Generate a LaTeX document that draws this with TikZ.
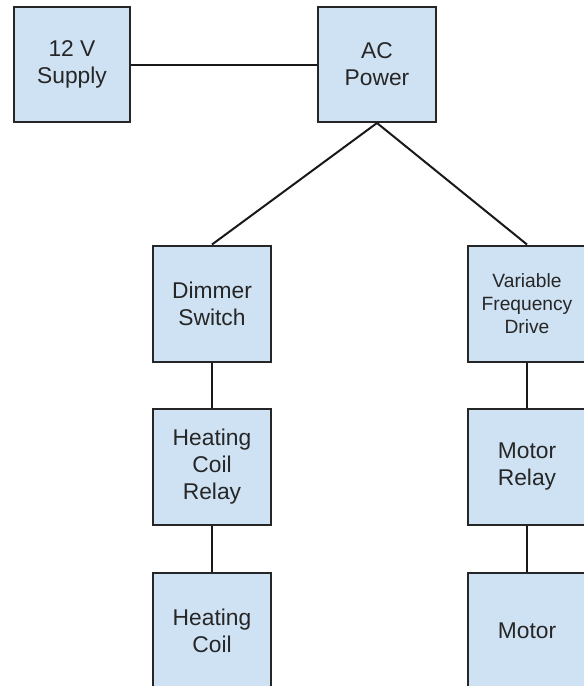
\documentclass[tikz,border=0pt]{standalone}
\usepackage{fontspec}
\setmainfont{Liberation Sans}
\begin{document}
\begin{tikzpicture}[x=1pt,y=-1pt,
  blk/.style={draw=black!85, line width=2pt, fill=boxblue, minimum width=118pt, minimum height=116pt,
    inner sep=0pt, align=center, font=\fontsize{22.8}{27}\selectfont, text=black!85},
  small/.style={font=\fontsize{19.2}{23}\selectfont},
  wire/.style={draw=black!90, line width=2pt}]
\definecolor{boxblue}{HTML}{CFE2F3}
\useasboundingbox (0,0) rectangle (584,686);
\clip (0,0) rectangle (584,686);
\node[blk, minimum width=116pt, minimum height=115pt] (sup) at (72,64.5) {12 V\\Supply};
\node[blk, minimum height=115pt] (ac) at (377,64.5) {AC\\Power};
\node[blk] (dim) at (212,303.5) {Dimmer\\Switch};
\node[blk, small] (vfd) at (527,303.5) {Variable\\Frequency\\Drive};
\node[blk] (hcr) at (212,466.5) {Heating\\Coil\\Relay};
\node[blk] (mr) at (527,466.5) {Motor\\Relay};
\node[blk] (hc) at (212,630.5) {Heating\\Coil};
\node[blk] (mot) at (527,630.5) {Motor};
\draw[wire] (sup.east) -- (ac.west);
\draw[wire] (ac.south) -- (dim.north);
\draw[wire] (ac.south) -- (vfd.north);
\draw[wire] (dim.south) -- (hcr.north);
\draw[wire] (hcr.south) -- (hc.north);
\draw[wire] (vfd.south) -- (mr.north);
\draw[wire] (mr.south) -- (mot.north);
\end{tikzpicture}
\end{document}
